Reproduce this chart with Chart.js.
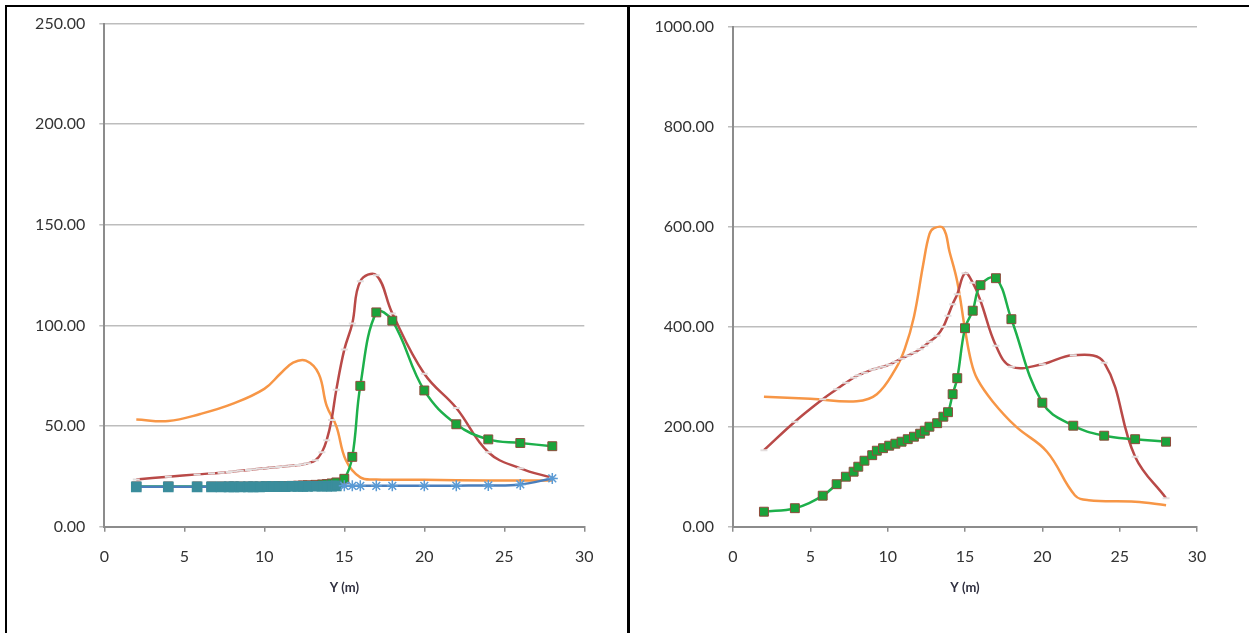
<!DOCTYPE html>
<html lang="en">
<head>
  <meta charset="UTF-8">
  <title>Y (m) profiles</title>
  <script src="https://cdn.jsdelivr.net/npm/chart.js@4.4.1/dist/chart.umd.min.js"></script>
  <style>
    body { margin: 0; padding: 0; background: #fff; width: 1249px; height: 633px; overflow: hidden; position: relative; font-family: Lato, sans-serif; }
    .box { position: absolute; top: 0; height: 633px; }
    #leftBox { left: 0; width: 620px; }
    #rightBox { left: 630px; width: 619px; }
    .rule { position: absolute; background: #000; }
  </style>
</head>
<body>
  <div class="box" id="leftBox"><canvas id="leftChart"></canvas></div>
  <div class="box" id="rightBox"><canvas id="rightChart"></canvas></div>
  <div class="rule" style="left:5px; top:5px; width:1244px; height:2px;"></div>
  <div class="rule" style="left:5px; top:5px; width:2px; height:628px;"></div>
  <div class="rule" style="left:627px; top:5px; width:2.5px; height:628px;"></div>

  <script>
    // stations along Y (m), shared by the marked series
    const gridX = [2, 4, 5.8, 6.7, 7.3, 7.8, 8.1, 8.5, 9, 9.3, 9.7, 10.1, 10.5, 10.9, 11.3, 11.7, 12.1, 12.4, 12.7,
                   13.2, 13.6, 13.9, 14.2, 14.5, 15, 15.5, 16, 17, 18, 20, 22, 24, 26, 28];

    // left chart
    const leftBlue  = [19.8, 19.8, 19.8, 19.8, 19.8, 19.8, 19.8, 19.8, 19.8, 19.8, 19.8, 19.9, 19.9, 19.9, 19.9, 20, 20, 20, 20,
                       20.1, 20.1, 20.2, 20.2, 20.3, 20.3, 20.3, 20.3, 20.3, 20.3, 20.3, 20.4, 20.5, 21, 24];
    const leftGreen = [20, 20, 20, 20, 20, 20, 20, 20, 20, 20, 20, 20.1, 20.1, 20.2, 20.2, 20.3, 20.4, 20.5, 20.6,
                       20.8, 21, 21.2, 21.5, 22, 23.8, 34.7, 70, 106.5, 102.4, 67.7, 50.9, 43.4, 41.6, 40];
    const leftRed   = [23.5, 24.8, 26, 26.5, 26.8, 27.2, 27.5, 27.8, 28.2, 28.5, 28.8, 29.1, 29.4, 29.7, 30, 30.3, 30.6, 31, 31.5,
                       33, 37, 43, 53, 68, 88, 101, 122, 125, 106, 76, 59, 37, 29, 24.3];
    const leftOrangeX = [2, 4, 6, 8, 10, 11, 11.8, 12.6, 13.4, 13.9, 14.5, 15.1, 16, 17, 20, 24, 28];
    const leftOrange  = [53.3, 52.5, 56, 61, 68.5, 76, 81.5, 82.5, 76, 60, 50, 33, 24.5, 23.5, 23.3, 23, 23];

    // right chart
    const rightGreen = [30, 37, 62, 85, 100, 110, 120, 132, 143, 152, 157, 162, 166, 170, 175, 180, 186, 192, 200,
                        207, 220, 229, 265, 297, 397, 432, 483, 497, 415, 248, 202, 182, 175, 170];
    const rightRed   = [153, 210, 255, 275, 288, 298, 303, 308, 314, 317, 320, 324, 330, 336, 342, 348, 355, 362, 370,
                        382, 400, 422, 445, 465, 507, 488, 452, 362, 320, 325, 343, 328, 140, 57];
    const rightOrangeX = [2, 5, 8, 9.3, 10.5, 11.1, 11.7, 12.3, 12.7, 13.0, 13.6, 14.0, 14.5, 15, 15.4, 15.8, 16.8, 18.3, 20.3, 22.1, 23, 26, 28];
    const rightOrange  = [260, 256, 251, 265, 315, 355, 420, 525, 585, 597, 597, 550, 490, 395, 330, 295, 250, 200, 150, 63, 53, 50, 43];

    const leftTicks = [0, 50, 100, 150, 200, 250];
    const rightTicks = [0, 200, 400, 600, 800, 1000];

    function pts(xs, ys) { return xs.map((x, i) => ({ x: x, y: ys[i] })); }

    function blueSet(ys) {
      return {
        data: pts(gridX, ys),
        borderColor: '#4a7ebb', borderWidth: 2.5,
        pointStyle: gridX.map(x => x < 15 ? 'rect' : 'star'),
        pointRadius: gridX.map(x => x < 15 ? 6.5 : 5.5),
        pointBackgroundColor: '#3a8d9c',
        pointBorderColor: gridX.map(x => x < 15 ? '#3a8d9c' : '#5b9bd5'),
        pointBorderWidth: 1.5
      };
    }
    function greenSet(ys) {
      return {
        data: pts(gridX, ys),
        borderColor: '#1db04b', borderWidth: 2.5,
        pointStyle: 'rect', pointRadius: 6.3,
        pointBackgroundColor: '#1aa33a', pointBorderColor: '#8f4b3c', pointBorderWidth: 1
      };
    }
    function redSet(ys) {
      return {
        data: pts(gridX, ys),
        borderColor: '#b94a48', borderWidth: 2.5,
        pointStyle: 'line', pointRadius: 3.5,
        pointBorderColor: '#e3dede', pointBorderWidth: 2
      };
    }
    function orangeSet(xs, ys) {
      return { data: pts(xs, ys), borderColor: '#f79646', borderWidth: 2.5, pointRadius: 0 };
    }

    function makeChart(id, ticks, datasets, axisW, pad) {
      const top = ticks[ticks.length - 1];
      return new Chart(document.getElementById(id), {
        type: 'line',
        data: { datasets: datasets },
        options: {
          responsive: true,
          maintainAspectRatio: false,
          animation: false,
          layout: { padding: pad },
          elements: { line: { tension: 0.4, fill: false } },
          plugins: { legend: { display: false }, tooltip: { enabled: false } },
          scales: {
            x: {
              type: 'linear', min: 0, max: 30,
              ticks: { stepSize: 5, color: '#333', font: { family: 'Lato', size: 16 }, padding: 16 },
              grid: { drawOnChartArea: false, tickLength: 5, color: '#8c8c8c', lineWidth: 1.5 },
              border: { display: true, color: '#8c8c8c', width: 2 },
              title: { display: true, text: 'Y (m)', color: '#2f2f3f', font: { family: 'Lato', size: 13, weight: 'bold' },
                       padding: { top: 0, bottom: 37 } },
              afterFit: s => { s.height = 106.3; }
            },
            y: {
              min: 0, max: top,
              afterBuildTicks: s => { s.ticks = ticks.map(v => ({ value: v })); },
              ticks: { color: '#333', font: { family: 'Lato', size: 16 }, padding: 14,
                       callback: v => Number(v).toFixed(2) },
              grid: { color: '#bdbdbd', lineWidth: 1.5, tickLength: 5 },
              border: { display: true, color: '#8c8c8c', width: 2 },
              afterFit: s => { s.width = axisW; }
            }
          }
        }
      });
    }

    makeChart('leftChart', leftTicks, [
      blueSet(leftBlue),
      greenSet(leftGreen),
      redSet(leftRed),
      orangeSet(leftOrangeX, leftOrange)
    ], 104.3, { left: 0, top: 22, right: 35.7, bottom: 0 });

    makeChart('rightChart', rightTicks, [
      greenSet(rightGreen),
      redSet(rightRed),
      orangeSet(rightOrangeX, rightOrange)
    ], 103, { left: 0, top: 26.7, right: 52, bottom: 0 });
  </script>
</body>
</html>
